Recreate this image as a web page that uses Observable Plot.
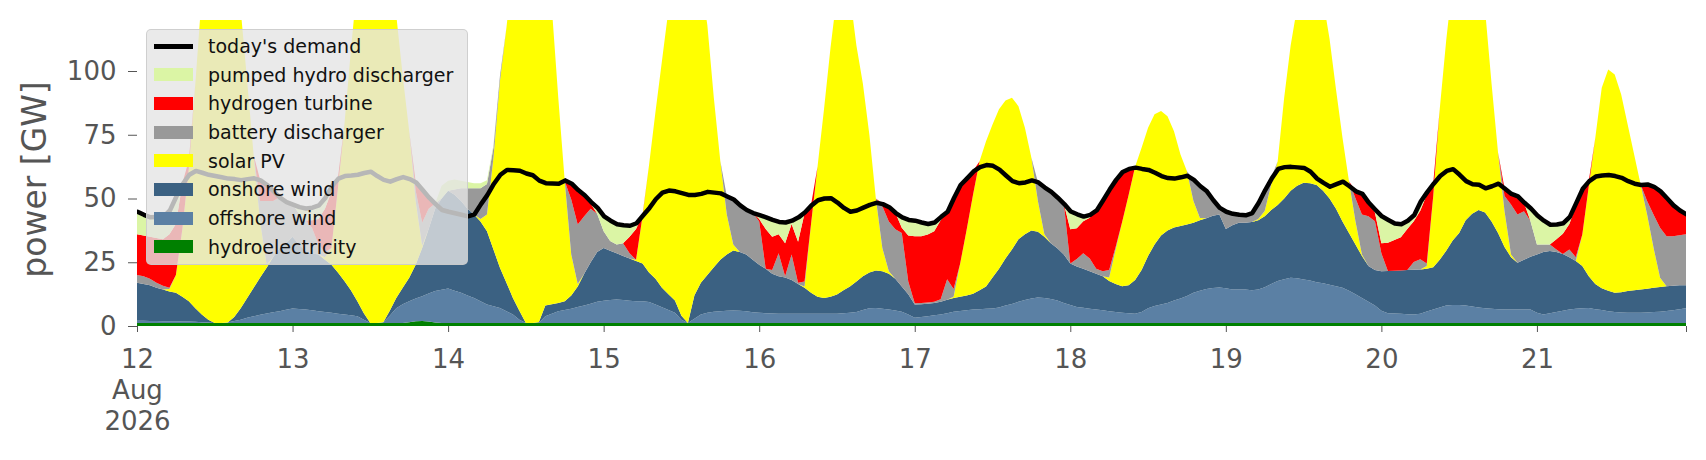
<!DOCTYPE html>
<html>
<head>
<meta charset="utf-8">
<script src="https://cdn.jsdelivr.net/npm/d3@7"></script>
<script src="https://cdn.jsdelivr.net/npm/@observablehq/plot@0.6"></script>
<style>
  body { margin: 0; background: #fff; font-family: "DejaVu Sans", sans-serif; }
  #wrap { position: relative; width: 1706px; height: 460px; }
  #legend { position: absolute; left: 146px; top: 29px; width: 322px; height: 236px;
            background: rgba(229,229,229,0.8); border: 1px solid rgba(200,200,200,0.8);
            border-radius: 5px; box-sizing: border-box; }
  .item { position: absolute; left: 0; width: 100%; height: 28px; }
  .sw { position: absolute; left: 7px; width: 39px; }
  .lab { position: absolute; left: 61px; top: 0; line-height: 28px; font-size: 19px; color: #111; white-space: nowrap; }
</style>
</head>
<body>
<div id="wrap"><div id="chart"></div><div id="legend"></div></div>
<script>
// ---- data (hourly, 12 Aug 2026 00:00 .. 21 Aug 2026 23:00), GW ----
const startYear = 2026, startMonth = 7, startDay = 12, nHours = 240;

const demand = [
  45,43.8,42.8,42.9,43.0,45.5,51,56,59.5,61,60.3,59.5,59,58.5,58,57.8,57.4,57.8,58.1,57.3,55.5,53,50.5,48.8,
  47.8,46.8,46.3,46.6,47.5,50.5,55,58,59,59.2,59.5,60.2,60.7,59,57.5,56.8,57.8,58.6,57.8,56.5,53.5,50.5,48,45.7,
  45,44.4,43.8,43.2,44,48,51.6,56,59.5,61.4,61.3,61.1,60,59.3,57.2,56.2,56.1,56,57.3,56,53.5,51.5,48.8,46.5,
  43.2,41.5,40.1,39.7,39.5,40.5,43.5,46.5,50,52.5,53.3,53,52.3,51.6,51.6,52,52.8,52.5,52.2,51,49.8,47.5,45.7,44.5,
  43.7,42.8,41.8,41,40.8,41.5,42.8,44.8,47.5,49.5,50.2,50.3,48.6,46.5,45,45.5,46.6,47.7,48.5,48,46.8,44.5,42.8,41.8,
  41.5,40.8,40.2,40.8,43,45,50.5,55.5,58.1,60.8,62.5,63.3,63,61.5,59.2,57,56.2,56.5,57.3,56.5,54.5,52.8,50.5,48,
  45.1,44,43.1,43.8,45.5,49.5,53.7,57.5,60.6,61.8,62.3,61.8,61.4,60.3,59,58.2,58,58.5,59.1,57.5,55,53,49.5,46.5,
  45,44.2,43.8,43.6,44.5,48.5,53.5,58,61.8,62.5,62.6,62.4,62.2,60.7,58,56.3,54.8,55.8,56.8,55,53,52,48.5,45.8,
  43.2,41.8,40.4,40.1,41.5,43.7,49,52.7,56,59,61,61.7,59.5,57,55.8,55.6,54.2,55,56,54,52,51,48.5,46.3,
  43.5,41.5,39.9,40,40.5,43,48.5,54,57,58.8,59.2,59.4,59,58.3,57,56,55.5,55.7,54.8,53,50.3,47.5,45.5,44
];

const hydro = [
  1.2,1.2,1.2,1.2,1.2,1.2,1.2,1.2,1.2,1.2,1.2,1.2,1.2,1.2,1.2,1.2,1.2,1.2,1.2,1.2,1.2,1.2,1.2,1.2,
  1.2,1.2,1.2,1.2,1.2,1.2,1.2,1.2,1.2,1.2,1.2,1.2,1.2,1.2,1.2,1.2,1.2,1.2,1.5,1.9,2.0,1.8,1.4,1.2,
  1.2,1.2,1.2,1.2,1.2,1.2,1.2,1.2,1.2,1.2,1.2,1.2,1.2,1.2,1.2,1.2,1.2,1.2,1.2,1.2,1.2,1.2,1.2,1.2,
  1.2,1.2,1.2,1.2,1.2,1.2,1.2,1.2,1.2,1.2,1.2,1.2,1.2,1.2,1.2,1.2,1.2,1.2,1.2,1.2,1.2,1.2,1.2,1.2,
  1.2,1.2,1.2,1.2,1.2,1.2,1.2,1.2,1.2,1.2,1.2,1.2,1.2,1.2,1.2,1.2,1.2,1.2,1.2,1.2,1.2,1.2,1.2,1.2,
  1.2,1.2,1.2,1.2,1.2,1.2,1.2,1.2,1.2,1.2,1.2,1.2,1.2,1.2,1.2,1.2,1.2,1.2,1.2,1.2,1.2,1.2,1.2,1.2,
  1.2,1.2,1.2,1.2,1.2,1.2,1.2,1.2,1.2,1.2,1.2,1.2,1.2,1.2,1.2,1.2,1.2,1.2,1.2,1.2,1.2,1.2,1.2,1.2,
  1.2,1.2,1.2,1.2,1.2,1.2,1.2,1.2,1.2,1.2,1.2,1.2,1.2,1.2,1.2,1.2,1.2,1.2,1.2,1.2,1.2,1.2,1.2,1.2,
  1.2,1.2,1.2,1.2,1.2,1.2,1.2,1.2,1.2,1.2,1.2,1.2,1.2,1.2,1.2,1.2,1.2,1.2,1.2,1.2,1.2,1.2,1.2,1.2,
  1.2,1.2,1.2,1.2,1.2,1.2,1.2,1.2,1.2,1.2,1.2,1.2,1.2,1.2,1.2,1.2,1.2,1.2,1.2,1.2,1.2,1.2,1.2,1.2
];

const offshore = [
  0.9,0.9,0.8,0.8,0.7,0.7,0.7,0.6,0.6,0.5,0.3,0.2,0,0,0.2,0.8,1.3,2.0,2.6,3.2,3.7,4.2,4.6,5.2,
  5.7,5.5,5.3,5.0,4.6,4.3,4.0,3.6,3.3,3.0,2.6,1.3,0,0,0.3,2.8,5.8,7.3,8.2,8.9,9.7,10.9,12.3,13.0,
  13.5,12.6,11.8,10.8,9.8,8.5,7.2,6.5,5.9,4.6,3.3,1.3,0,0,0,2.6,3.6,4.6,5.1,5.6,6.3,6.8,7.5,8.3,
  8.7,9.0,9.2,9.0,8.7,8.5,8.5,8.2,7.2,6.2,5.1,4.0,1.3,0,1.6,3.3,4.0,4.4,4.6,4.8,4.9,4.8,4.6,4.2,
  4.0,3.8,3.7,3.6,3.6,3.6,3.6,3.6,3.6,3.6,3.6,3.6,3.6,3.8,4.0,4.3,5.1,5.8,5.9,5.6,5.3,4.9,4.4,3.3,
  2.0,2.3,2.6,3.0,3.3,3.8,4.4,4.7,5.0,5.3,5.4,5.6,5.7,6.1,6.8,7.4,8.3,9.0,9.6,10.0,9.8,9.4,8.8,7.8,
  7.0,6.3,6.0,5.6,5.3,5.0,4.6,4.3,4.0,3.8,3.6,4.3,5.8,6.6,7.2,7.8,8.8,9.6,10.6,11.8,12.6,13.3,13.7,13.9,
  13.6,13.1,13.1,13.1,12.8,13.1,14.0,15.3,16.4,17.1,17.7,17.5,17.0,16.6,16.0,15.6,15.0,14.4,13.8,12.6,11.3,9.8,8.3,6.8,
  4.8,3.8,3.7,3.6,3.4,3.3,3.6,4.5,5.3,6.1,6.8,7.0,7.0,6.8,6.4,6.1,5.8,5.6,5.4,5.3,5.3,5.3,5.3,5.3,
  4.0,3.3,3.8,4.3,4.8,5.3,5.6,5.8,5.9,5.4,5.1,4.6,4.3,4.1,4.0,4.0,4.0,4.1,4.3,4.4,4.7,5.0,5.4,5.8
];

const onshore = [
  14.9,14.4,14.0,13.0,12.4,11.6,11.1,9.7,7.9,5.3,3.0,1.1,0,0,0,1.5,4.5,7.8,11.2,14.6,17.9,21.6,24.8,26.1,
  28.1,25.3,22.9,22.3,22.2,20.5,18.8,16.2,13.1,9.8,5.9,2.5,0,0,0,2.0,4.0,6.5,9.2,13.2,18.9,25.3,32.3,35.8,
  38.3,37.7,36.0,34.0,32.7,31.3,28.8,22.3,15.7,11.2,6.5,3.5,0,0,0.3,4.2,3.7,3.2,3.4,5.2,8.0,12.5,16.3,19.5,
  20.7,19.3,18.1,17.3,16.6,15.8,14.8,11.6,10.1,7.6,6.2,4.8,1.5,0,9.2,12.5,14.8,17.4,20.2,22.0,23.5,23.0,22.2,20.6,
  18.8,17.5,15.6,14.7,14.2,13.2,11.7,10.2,8.2,6.7,6.2,6.7,7.6,9.0,10.3,12.0,13.2,14.0,14.7,14.7,14.0,12.4,9.9,8.0,
  5.2,5.0,4.9,4.8,5.0,5.3,5.4,5.6,5.8,6.1,7.4,8.7,12.1,15.2,18.5,21.4,24.5,25.8,26.7,25.8,24.0,21.9,20.5,19.0,
  16.3,15.8,15.3,14.7,14.0,13.3,11.8,11.0,10.4,11.0,13.2,16.5,20.5,24.2,27.1,28.5,28.6,28.4,28.0,27.5,27.7,27.8,28.3,28.6,
  23.2,25.2,26.2,26.2,26.8,27.2,27.8,29.0,29.9,31.7,34.1,36.3,38.0,38.2,38.1,36.2,33.8,30.4,26.0,22.7,19.5,16.5,14.0,14.0,
  15.5,16.6,16.8,17.0,17.4,17.6,17.4,16.8,16.5,18.7,21.5,25.3,28.3,33.5,36.4,38.2,37.5,34.2,29.9,24.5,20.5,18.3,19.5,20.7,
  22.8,24.5,24.4,23.5,22.2,20.5,18.7,16.5,12.4,9.9,8.5,8.0,7.5,7.9,8.5,8.8,9.1,9.3,9.5,9.7,9.7,9.6,9.4,9.0
];

const solar = [
  0,0,0,0,0,1.0,7,26.5,52.3,88,125.5,147.5,158.8,158.8,150.6,136.5,117,85,52,22,1.2,0,0,0,
  0,0,0,0,0,1,6.6,33,61.4,94,125.3,145,156.8,156.8,148.5,129,111,83,57.5,25,0.9,0,0,0,
  0,0,0,0,0,1,6.5,36,73.2,100,129,149,160.8,161.8,156.5,140,116.5,80.5,47.1,16,1,0,0,0,
  0,0,0,0,0,0.5,18.5,42,65.5,89,111.5,130,146,151.8,136,118,98,66.5,38.7,15.7,2.4,0,0,0,
  0,0,0,0,0,0,0,0.5,27,51,74,97.5,117.6,124,114.5,92.5,75.5,54,28.2,9.1,1,0,0,0,
  0,0,0,0,0,0,0.5,12.9,25.6,39,50.6,57,60,62.5,61.9,59.5,52.2,41.7,28.5,12,1,0,0,0,
  0,0,0,0,0,0,1.4,13.5,25.2,35.4,44.5,47.9,50.2,51,48.8,44.8,37.8,28.1,20.9,8.5,0.9,0,0,0,
  0,0,0,0,0,0.5,2.1,10,17.1,39.5,57,70,78.8,86,82.7,75,62.6,46.7,32.8,20.3,9.1,0.5,0,0,
  0,0,0,0,0,0,0,1,28,59,82.5,101.5,113.5,116.5,114,104.5,79.5,54,31.5,14,1,0,0,0,
  0,0,0,0,0,0,0,12.4,35.3,57.2,78.6,86.8,85.6,77.6,65.3,53.3,41.2,29.1,15.6,3.6,0,0,0,0
];

const battery = [
  3,3,2.5,2,1.5,0.5,0,0,0,0,0,0,0,0,0,0,0,0,0,8,25,22,19.9,16.3,
  12.8,12,12,10,4,2,0,0,0,0,0,0,0,0,0,0,0,0,0,4,9,8,2,0,
  0,2,5,8,10.3,12,12,4,2,0,0,0,0,0,0,0,0,0,0,21.6,23.3,22.5,21,15,
  6.6,3.8,3.5,5,2,0,0,0,0,0,0,0,0,0,0,0,0,0,0,7.3,17.8,18.5,17.7,18.5,
  17,0,1.5,9,0.5,10,0.5,2,0,0,0,0,0,0,0,0,0,0,0,16.4,19.5,19.4,21,5,
  0.5,0.5,0.5,0.5,1,8,3,0,0,0,0,0,0,0,0,0,0,0,0,7.5,18.5,20.3,20,20,
  0,3,6,5,2,2,3,1,0,0,0,0,0,0,0,0,0,0,0,8.5,12.6,10.7,6.3,2.8,
  7,4.7,3.3,3.1,3.7,6.5,8.4,2.5,0,0,0,0,0,0,0,0,0,0,0,0,9,15.7,19.5,19.1,
  7,0,0,0,0,3,4,1,0,0,0,0,0,0,0,0,0,0,0,6,19.6,18.9,19,14,
  4,3,2.6,1,0,3,1.5,0,0,0,0,0,0,0,0,0,0,5.3,13,19.6,19.6,19.4,19.6,20
];

const hydrogen = [
  16,16,16.5,17.5,18.2,21,20,18,3,0,0,0,0,0,0,0,0,0,0,8.3,6.5,4,0,0,
  0,0,0,3,10,17,22,4,0,0,0,0,0,0,0,0,0,0,0,3.5,13,4.5,0,0,
  0,0,0,0,0,0,0,0,0,0,0,0,0,0,0,0,0,0,0,6.4,13.7,8.5,2,0,
  0,0,0,0,6.5,12,0.5,0,0,0,0,0,0,0,0,0,0,0,0,0,0,0,0,0,
  1,15.5,13,7.5,13,12,16,26.7,7.5,0,0,0,0,0,0,0,0,0,0,1,5.8,6.6,2,18,
  26.3,26.2,26.7,27.7,31,26.7,36,31.1,20.5,9.2,0,0,0,0,0,0,0,0,0,0,0,0,0,0,
  13.4,12,12.6,16,23,28,31.7,26.5,19.8,10.4,0,0,0,0,0,0,0,0,0,0,0,0,0,0,
  0,0,0,0,0,0,0,0,0,0,0,0,0,0,0,0,0,0,0,0,2.9,8.3,5.5,3.4,
  4,11,12,13,16,16,19,27,5,0,0,0,0,0,0,0,0,0,0,3,4.4,7.3,3.5,0,
  0,0,0,4,8,10,20,18,2.2,0,0,0,0,0,0,0,0,6.7,11.2,14.5,15.1,12.3,9.9,8
];

const pumped = [
  9,8.3,7.8,8.4,9,9.5,11,0,0,0,0,0,0,0,0,0,0,0,0,0,0,0,0,0,
  0,2.8,4.9,5.1,5.5,4.5,2.4,0,0,0,0,0,0,0,0,0,0,0,0,0,0,0,0,5,
  4,4,3,2.5,2,2,1.5,1,0,0,0,0,0,0,0,0,0,0,0,0,0,0,0.8,2.5,
  6.0,8.2,8.1,7.2,4.5,2.5,0,0,0,0,0,0,0,0,0,0,0,0,0,0,0,0,0,0,
  1.7,4.8,6.8,5,8.3,1.5,9.8,0.6,0,0,0,0,0,0,0,0,0,0,0,0,0,0,4.3,6.3,
  6.3,5.6,4.3,3.6,1.5,0,0,0,0,0,0,0,0,0,0,0,0,0,0,0,0,0,0,0,
  7.2,5.7,2,1.3,0,0,0,0,0,0,0,0,0,0,0,0,0,0,0,0,0,0,0,0,
  0,0,0,0,0,0,0,0,0,0,0,0,0,0,0,0,0,0,0,0,0,0,0,1.3,
  10.7,9.2,6.7,5.3,3.5,2.6,3.8,1.2,0,0,0,0,0,0,0,0,0,0,0,0,0,0,0,5.1,
  11.5,9.5,7.9,6,4.3,3,1.5,0,0,0,0,0,0,0,0,0,0,0,0,0,0,0,0,0
];

// stack order bottom -> top
const seriesNames = ["hydroelectricity","offshore wind","onshore wind","solar PV",
                     "battery discharger","hydrogen turbine","pumped hydro discharger"];
const seriesColors = ["#008000","#5b80a4","#3b6182","#ffff00","#999999","#ff0000","#dbf5a5"];
const seriesValues = [hydro, offshore, onshore, solar, battery, hydrogen, pumped];

const yTicks = [0, 25, 50, 75, 100];
const xTickDays = [12,13,14,15,16,17,18,19,20,21];
const firstTickLabel = "12\nAug\n2026";
const yLabel = "power [GW]";
const demandLabel = "today's demand";

// ---- build tables ----
const dates = d3.range(nHours).map(h => new Date(startYear, startMonth, startDay, h));
const rows = seriesNames.flatMap((name, i) =>
  seriesValues[i].map((v, h) => ({date: dates[h], series: name, value: v})));
const demandRows = demand.map((v, h) => ({date: dates[h], value: v}));
const xTicks = xTickDays.map(d => new Date(startYear, startMonth, d)).concat([dates[nHours - 1]]);

const chart = Plot.plot({
  width: 1706, height: 460,
  marginLeft: 137, marginRight: 20, marginTop: 20, marginBottom: 134,
  style: {fontFamily: "DejaVu Sans, sans-serif", fontSize: "26px", background: "white", color: "#555"},
  x: {type: "time", domain: [dates[0], dates[nHours - 1]]},
  y: {domain: [0, 120]},
  color: {domain: seriesNames, range: seriesColors},
  marks: [
    Plot.areaY(rows, {x: "date", y: "value", z: "series", fill: "series",
                      order: seriesNames, curve: "linear", clip: true}),
    Plot.line(demandRows, {x: "date", y: "value", stroke: "black", strokeWidth: 4.5,
                           strokeLinejoin: "round", clip: true}),
    Plot.axisY({ticks: yTicks, tickSize: 9, tickPadding: 12, fontSize: 26, color: "#555", label: null}),
    Plot.axisX({ticks: xTicks, tickSize: 6, tickPadding: 13, fontSize: 26, lineHeight: 1.2,
                color: "#555", label: null,
                tickFormat: (d, i) => i === 0 ? firstTickLabel
                  : (d.getHours() === 0 ? String(d.getDate()) : "")}),
    Plot.text([yLabel], {text: d => d, frameAnchor: "left", textAnchor: "middle", lineAnchor: "middle",
                         rotate: -90, dx: -102, dy: 6, fontSize: 33, fill: "#555"})
  ]
});
document.getElementById("chart").appendChild(chart);

// ---- legend (overlaid, semi-transparent like the reference) ----
const legend = document.getElementById("legend");
const legendItems = [{name: demandLabel, color: "#000", line: true}]
  .concat(seriesNames.slice().reverse().map((n) => ({name: n, color: seriesColors[seriesNames.indexOf(n)], line: false})));
legendItems.forEach((it, i) => {
  const row = document.createElement("div");
  row.className = "item";
  row.style.top = (2 + i * 28.67) + "px";
  const sw = document.createElement("div");
  sw.className = "sw";
  sw.style.background = it.color;
  if (it.line) { sw.style.height = "5px"; sw.style.top = "11.5px"; }
  else { sw.style.height = "13px"; sw.style.top = "7.5px"; }
  const lab = document.createElement("div");
  lab.className = "lab";
  lab.textContent = it.name;
  row.appendChild(sw); row.appendChild(lab);
  legend.appendChild(row);
});
</script>
</body>
</html>
